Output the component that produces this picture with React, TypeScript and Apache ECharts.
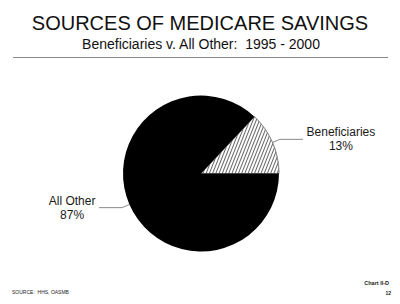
import React, { useEffect, useRef } from "react";
import * as echarts from "echarts";

const categories = ["Beneficiaries", "All Other"];
const values = [13, 87];
const titleText = "SOURCES OF MEDICARE SAVINGS";
const subtitleText = "Beneficiaries v. All Other:  1995 - 2000";
const sourceText = "SOURCE:  HHS, OASMB";
const chartId = "Chart II-D";
const pageNo = "12";

export default function App() {
  const ref = useRef<HTMLDivElement>(null);
  useEffect(() => {
    if (!ref.current) return;
    const chart = echarts.init(ref.current, null, { renderer: "svg" });
    const font = "'Liberation Sans', Arial, Helvetica, sans-serif";
    const richKeys = ["ben", "oth"];
    chart.setOption({
      animation: false,
      backgroundColor: "#ffffff",
      textStyle: { fontFamily: font },
      graphic: [
        {
          type: "text",
          x: 200,
          y: 23,
          style: {
            text: titleText,
            font: `20px ${font}`,
            fill: "#111",
            textAlign: "center",
            textVerticalAlign: "middle",
          },
        },
        {
          type: "text",
          x: 201,
          y: 44,
          style: {
            text: subtitleText,
            font: `14px ${font}`,
            fill: "#111",
            textAlign: "center",
            textVerticalAlign: "middle",
          },
        },
        {
          type: "line",
          shape: { x1: 13, y1: 57.5, x2: 388, y2: 57.5 },
          style: { stroke: "#8a8a8a", lineWidth: 1 },
        },
        {
          type: "text",
          x: 12,
          y: 292,
          style: {
            text: sourceText,
            font: `5px ${font}`,
            fill: "#222",
            textAlign: "left",
            textVerticalAlign: "middle",
          },
        },
        {
          type: "text",
          x: 389,
          y: 283,
          style: {
            text: chartId,
            font: `bold 5.5px ${font}`,
            fill: "#222",
            textAlign: "right",
            textVerticalAlign: "middle",
          },
        },
        {
          type: "text",
          x: 391,
          y: 293,
          style: {
            text: pageNo,
            font: `bold 5px ${font}`,
            fill: "#222",
            textAlign: "right",
            textVerticalAlign: "middle",
          },
        },
      ],
      series: [
        {
          type: "pie",
          center: [201, 173.5],
          radius: 78,
          startAngle: 0,
          clockwise: false,
          avoidLabelOverlap: false,
          label: {
            show: true,
            position: "outside",
            distanceToLabelLine: 3,
            formatter: (p: any) => {
              const k = richKeys[p.dataIndex];
              return `{${k}|${p.name}}\n{${k}|${Math.round(p.percent)}%}`;
            },
            rich: {
              ben: {
                width: 70,
                align: "center",
                fontSize: 12,
                lineHeight: 14,
                color: "#1a1a1a",
                fontFamily: font,
              },
              oth: {
                width: 48,
                align: "center",
                fontSize: 12,
                lineHeight: 14,
                color: "#1a1a1a",
                fontFamily: font,
              },
            },
          },
          labelLine: {
            show: true,
            length: 8,
            length2: 23,
            lineStyle: { color: "#8a8a8a", width: 1 },
          },
          emphasis: { disabled: true },
          data: categories.map((name, i) => ({
            name,
            value: values[i],
            itemStyle:
              i === 0
                ? {
                    color: "#ffffff",
                    borderColor: "#777",
                    borderWidth: 0.6,
                    decal: {
                      symbol: "rect",
                      symbolSize: 1,
                      dashArrayX: [1, 0],
                      dashArrayY: [1, 2],
                      rotation: -Math.PI * 0.38,
                      color: "#666",
                    },
                  }
                : { color: "#000000", borderWidth: 0 },
          })),
        },
      ],
    });
    return () => chart.dispose();
  }, []);
  return (
    <div
      ref={ref}
      style={{ position: "fixed", left: 0, top: 0, width: 400, height: 304 }}
    />
  );
}
